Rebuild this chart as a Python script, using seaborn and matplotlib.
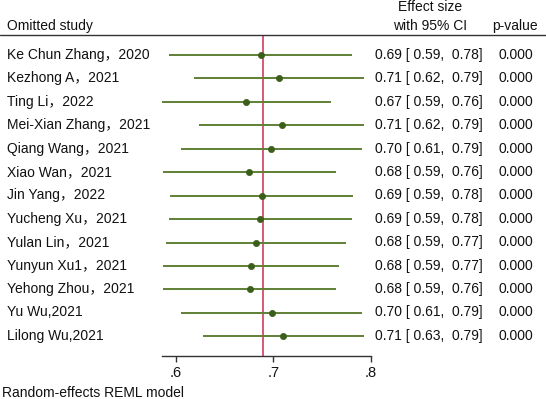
import numpy as np
import pandas as pd
import matplotlib
matplotlib.use("Agg")
import matplotlib.pyplot as plt
from matplotlib.lines import Line2D
import seaborn as sns

# leave-one-out sensitivity results
studies = ["Ke Chun Zhang，2020", "Kezhong A，2021", "Ting Li，2022",
           "Mei-Xian Zhang，2021", "Qiang Wang，2021", "Xiao Wan，2021",
           "Jin Yang，2022", "Yucheng Xu，2021", "Yulan Lin，2021",
           "Yunyun Xu1，2021", "Yehong Zhou，2021", "Yu Wu,2021", "Lilong Wu,2021"]
effect = [0.6867, 0.7058, 0.6720, 0.7085, 0.6977, 0.6751, 0.6881,
          0.6864, 0.6823, 0.6768, 0.6761, 0.6980, 0.7102]
ci_low = [0.5933, 0.6180, 0.5857, 0.6232, 0.6051, 0.5867, 0.5942,
          0.5925, 0.5894, 0.5870, 0.5867, 0.6054, 0.6273]
ci_high = [0.7803, 0.7932, 0.7588, 0.7932, 0.7906, 0.7640, 0.7820,
           0.7803, 0.7745, 0.7670, 0.7640, 0.7906, 0.7930]
p_values = [0.000] * 13
overall = 0.6894
x_ticks = [0.6, 0.7, 0.8]
x_ticklabels = [".6", ".7", ".8"]

df = pd.DataFrame({"study": studies, "effect": effect, "lo": ci_low, "hi": ci_high,
                   "p": p_values})
df["row"] = np.arange(len(df))

sns.set_theme(style="white")
plt.rcParams["font.family"] = ["Liberation Sans", "Noto Sans CJK SC", "DejaVu Sans"]

W, H = 546, 399
fig = plt.figure(figsize=(W / 100, H / 100), dpi=100)
ax_l, ax_r, ax_t, ax_b = 162, 371, 35, 356
ax = fig.add_axes([ax_l / W, 1 - ax_b / H, (ax_r - ax_l) / W, (ax_b - ax_t) / H])

line_c = "#5f8035"
dot_c = "#3b5e1a"
ax.hlines(df["row"], df["lo"], df["hi"], color=line_c, lw=1.4, zorder=2)
ax.axvline(overall, color="#d65a78", lw=1.4, zorder=1)
sns.scatterplot(data=df, x="effect", y="row", ax=ax, color=dot_c, s=20,
                edgecolor=dot_c, linewidth=0.5, zorder=3, legend=False)

ax.set_xlim(0.5857, 0.80)
ax.set_ylim(len(df) - 1 + 0.84, -0.855)
ax.set_xticks(x_ticks)
ax.set_xticklabels(x_ticklabels, fontsize=10.5)
ax.set_yticks([])
ax.set_xlabel("")
ax.set_ylabel("")
for s in ["top", "right", "left"]:
    ax.spines[s].set_visible(False)
ax.spines["bottom"].set_color("#333333")
ax.spines["bottom"].set_linewidth(1.0)
ax.tick_params(axis="x", length=4, width=1.0, color="#333333", pad=3,
               bottom=True, labelcolor="#111111")

fs = 10
tc = "#111111"
# header
fig.text(7 / W, 1 - 26 / H, "Omitted study", fontsize=fs, color=tc, va="center", ha="left")
fig.text(430 / W, 1 - 7 / H, "Effect size", fontsize=fs, color=tc, va="center", ha="center")
fig.text(430 / W, 1 - 26 / H, "with 95% CI", fontsize=fs, color=tc, va="center", ha="center")
fig.text(515 / W, 1 - 26 / H, "p-value", fontsize=fs, color=tc, va="center", ha="center")
fig.add_artist(Line2D([0, 1], [1 - 34.5 / H, 1 - 34.5 / H], color="#333333", lw=1.0))

for r in df.itertuples():
    y = 1 - (55 + 23.4 * r.row) / H
    fig.text(7 / W, y, r.study, fontsize=fs, color=tc, va="center", ha="left")
    fig.text(483 / W, y, f"{r.effect:.2f} [ {r.lo:.2f},  {r.hi:.2f}]", fontsize=fs,
             color=tc, va="center", ha="right")
    fig.text(533 / W, y, f"{r.p:.3f}", fontsize=fs, color=tc, va="center", ha="right")

fig.text(2 / W, 1 - 393 / H, "Random-effects REML model", fontsize=fs, color=tc,
         va="center", ha="left")

fig.savefig("out.png", dpi=100)
